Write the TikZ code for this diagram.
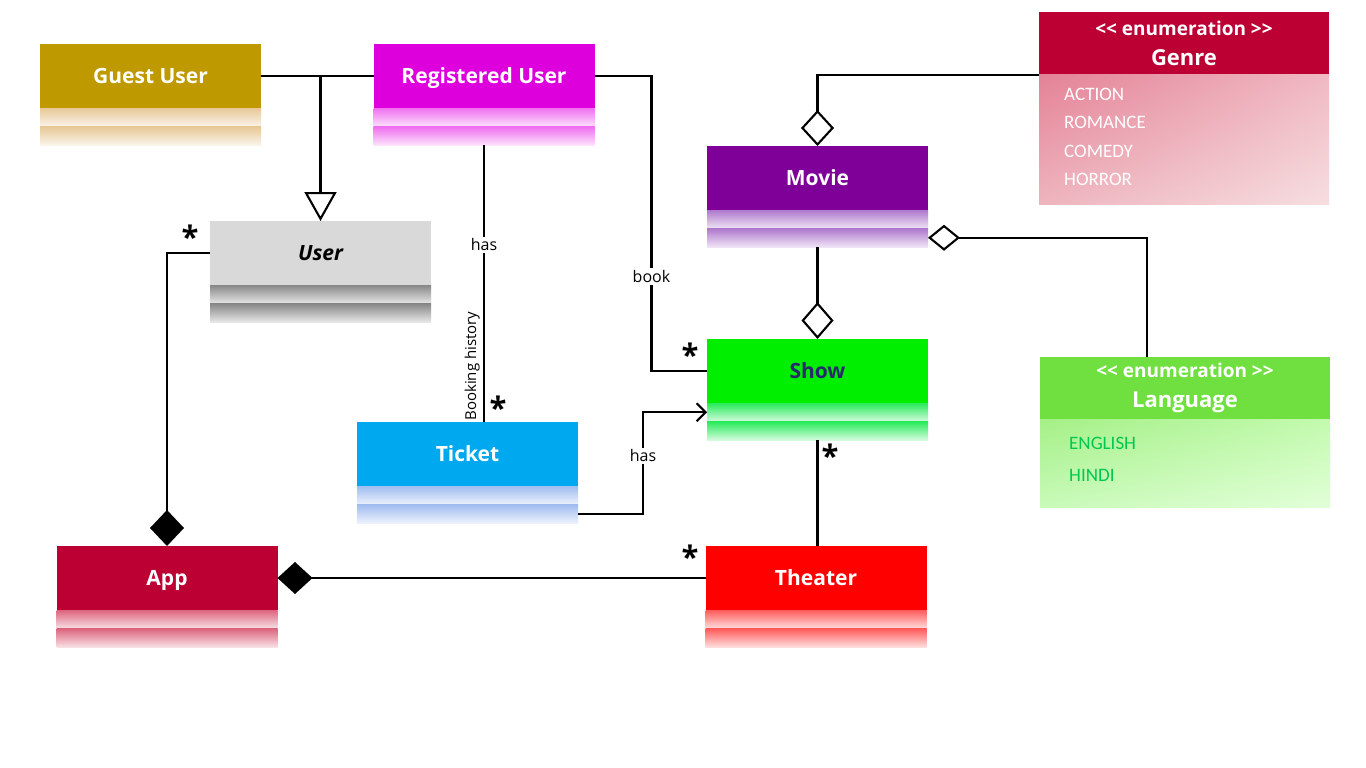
\documentclass[tikz,border=0pt]{standalone}
\usepackage{fontspec}
\setmainfont{Open Sans}
\newfontfamily\itemfont{Carlito}
\usetikzlibrary{arrows.meta,positioning,shadings}
\definecolor{guesthd}{RGB}{191,153,0}
\definecolor{guestcp}{RGB}{232,200,150}
\definecolor{reghd}{RGB}{221,0,221}
\definecolor{regcp}{RGB}{240,110,240}
\definecolor{userhd}{RGB}{217,217,217}
\definecolor{usercp}{RGB}{135,135,135}
\definecolor{moviehd}{RGB}{127,0,153}
\definecolor{moviecp}{RGB}{175,120,205}
\definecolor{showhd}{RGB}{0,238,0}
\definecolor{showcp}{RGB}{40,235,90}
\definecolor{showtxt}{RGB}{40,40,110}
\definecolor{tickethd}{RGB}{0,168,240}
\definecolor{ticketcp}{RGB}{160,188,240}
\definecolor{apphd}{RGB}{188,0,51}
\definecolor{appcp}{RGB}{220,100,125}
\definecolor{theaterhd}{RGB}{255,0,0}
\definecolor{theatercp}{RGB}{255,90,90}
\definecolor{langhd}{RGB}{112,224,64}
\definecolor{langtxt}{RGB}{0,200,80}
\definecolor{genreul}{RGB}{228,130,150}
\definecolor{genreur}{RGB}{240,185,195}
\definecolor{genrell}{RGB}{238,180,190}
\definecolor{genrelr}{RGB}{246,222,224}
\definecolor{langul}{RGB}{165,240,135}
\definecolor{langur}{RGB}{195,250,175}
\definecolor{langll}{RGB}{200,250,185}
\definecolor{langlr}{RGB}{226,255,216}
% header plus two shaded compartments
\newcommand{\umlclass}[6][]{%
  \node[clshead,fill=#4,#1] (#2) at (#3) {#6};
  \node[clscomp,top color=#5,bottom color=#5!20,anchor=north] (#2-a) at (#2.south) {};
  \node[clscomp,top color=#5,bottom color=#5!20,anchor=north] (#2-b) at (#2-a.south) {};
}
\begin{document}
\begin{tikzpicture}[x=1pt,y=-1pt,
  clshead/.style={rectangle,minimum width=221pt,minimum height=64pt,inner sep=0pt,outer sep=0pt,text=white,
    text height=15pt,text depth=0pt,font=\bfseries\fontsize{21}{25}\selectfont},
  clscomp/.style={rectangle,minimum width=221pt,minimum height=18.5pt,inner sep=0pt,outer sep=0pt},
  enumhead/.style={clshead,minimum width=290pt,minimum height=63pt,align=center,text height=,text depth=,font=\bfseries\fontsize{22}{30}\selectfont},
  enumbody/.style={rectangle,minimum width=290pt,inner sep=0pt,outer sep=0pt,anchor=north},
  enumitem/.style={anchor=west,inner sep=0pt,font=\itemfont\fontsize{19}{22}\selectfont},
  conn/.style={line width=2.1pt},
  lbl/.style={fill=white,inner sep=2pt,font=\fontsize{16}{18}\selectfont},
  mult/.style={inner sep=0pt,font=\bfseries\fontsize{31}{31}\selectfont},
  gen/.style={conn,-{Triangle[open,length=29pt,width=32pt]}}]
\fill[white] (0,0) rectangle (1366,768);
\useasboundingbox (0,0) rectangle (1366,768);
% classes
\umlclass{guest}{150.5,76}{guesthd}{guestcp}{Guest User}
\umlclass{registered}{484,76}{reghd}{regcp}{Registered User}
\umlclass[text=black,font=\bfseries\itshape\fontsize{21}{25}\selectfont]{user}{320.5,253}{userhd}{usercp}{User}
\umlclass{movie}{817.5,178}{moviehd}{moviecp}{Movie}
\umlclass[text=showtxt]{show}{817.5,371}{showhd}{showcp}{Show}
\umlclass{ticket}{467.5,454}{tickethd}{ticketcp}{Ticket}
\umlclass{app}{167,578}{apphd}{appcp}{App}
\umlclass{theater}{816,578}{theaterhd}{theatercp}{Theater}
% enumerations
\node[enumhead,fill=apphd] (genre) at (1184,43.5) {{\fontsize{19}{30}\selectfont <{}< enumeration >{}>}\\Genre};
\node[enumbody,minimum height=129pt,upper left=genreul,upper right=genreur,lower left=genrell,lower right=genrelr] (genre-body) at (genre.south) {};
\foreach \t [count=\i] in {ACTION,ROMANCE,COMEDY,HORROR}
  \node[enumitem,text=white] (genre-\i) at (1064,{65.5+28.5*\i}) {\t};
\node[enumhead,fill=langhd] (language) at (1185,388) {{\fontsize{19}{30}\selectfont <{}< enumeration >{}>}\\Language};
\node[enumbody,minimum height=88pt,upper left=langul,upper right=langur,lower left=langll,lower right=langlr] (language-body) at (language.south) {};
\foreach \t [count=\i] in {ENGLISH,HINDI}
  \node[enumitem,text=langtxt] (language-\i) at (1069,{411+32*\i}) {\t};
% relations
\draw[conn] (guest.east) -- (registered.west);
\draw[gen] (user.north |- guest.east) -- (user.north);
\draw[conn] (registered.east) -- ++(57,0) coordinate (bookbend) -- node[lbl,pos=.68] (booklbl) {book} (bookbend |- show.west) -- (show.west);
\draw[conn] (registered-b.south) -- node[lbl,pos=.36] (hislbl) {has} (registered-b.south |- ticket.north);
\node[rotate=90,anchor=south,inner sep=2pt,font=\fontsize{15}{18}\selectfont] (historylbl) at (482,366) {Booking history};
\draw[conn,-{Diamond[length=36pt,width=34pt]}] (user.west) -| (app.north);
\draw[conn,-{Straight Barb[length=9pt,width=18pt]}] (ticket-b.east) -- ++(65,0) coordinate (hasbend) -- node[lbl,pos=.57] (haslbl) {has} (hasbend |- show-a.west) -- (show-a.west);
\draw[conn,-{Diamond[open,length=37pt,width=32pt]}] (movie-b.south) -- (show.north);
\draw[conn,-{Diamond[open,length=36pt,width=33pt]}] (genre.south west) -| (movie.north);
\draw[conn,{Diamond[open,length=32pt,width=26pt]}-] (movie-b.east) -| ([xshift=-38pt]language.north);
\draw[conn] (show-b.south) -- (show-b.south |- theater.north);
\draw[conn,{Diamond[length=35pt,width=32pt]}-] (app.east) -- (theater.west);
% multiplicities
\node[mult] (m-user) at (190,237) {*};
\node[mult] (m-show) at (690,355) {*};
\node[mult] (m-ticket) at (498,408) {*};
\node[mult] (m-theater) at (830,456) {*};
\node[mult] (m-app) at (690,557) {*};
\end{tikzpicture}
\end{document}
